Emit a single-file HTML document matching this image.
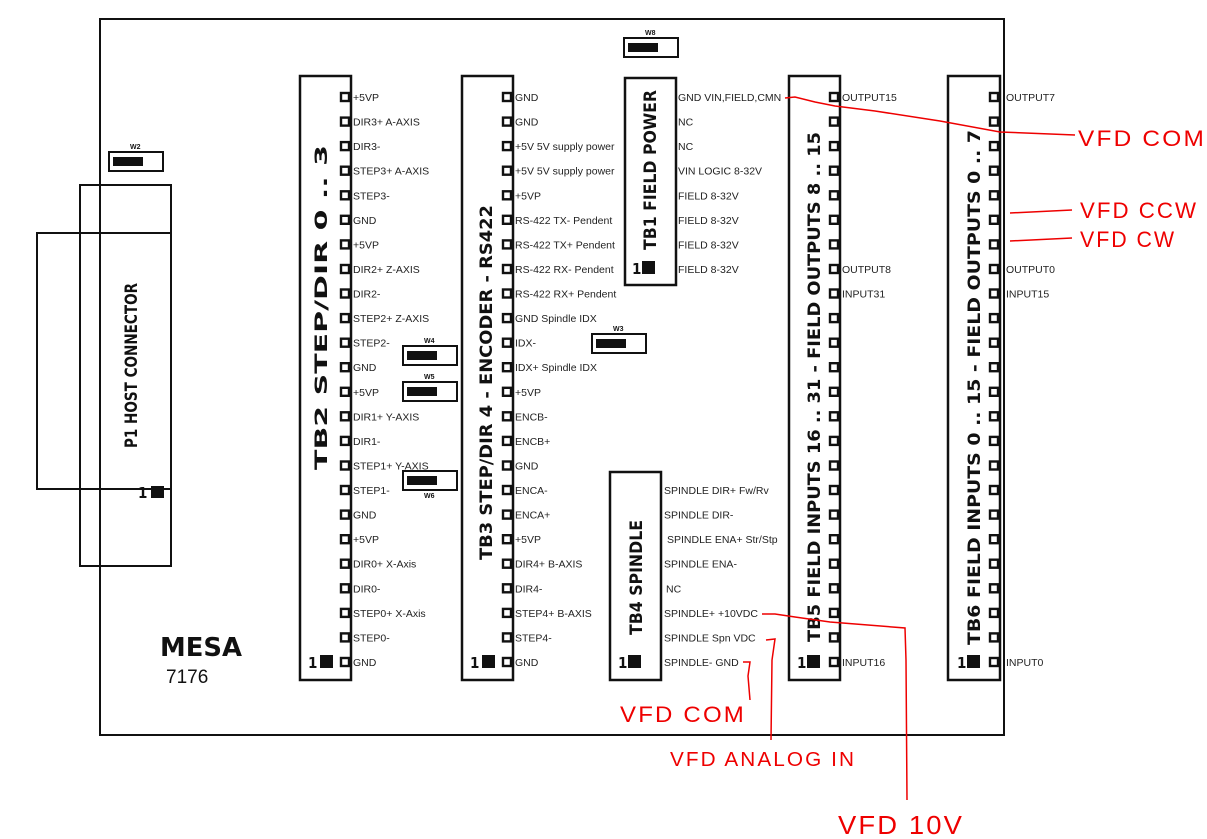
<!DOCTYPE html>
<html><head><meta charset="utf-8"><style>
html,body{margin:0;padding:0;background:#fff}
svg{display:block}
.l{font-family:"Liberation Sans",sans-serif;font-size:10.5px;fill:#222}
.t{font-family:"DejaVu Sans Condensed","DejaVu Sans",sans-serif;font-weight:bold;font-size:17px;fill:#111}
.r{font-family:"Liberation Sans",sans-serif;font-size:22px;fill:#e00;letter-spacing:2px}
.w{font-family:"Liberation Sans",sans-serif;font-weight:bold;font-size:7px;fill:#111}
</style></head><body>
<svg width="1207" height="839" viewBox="0 0 1207 839">
<defs>
<g id="p"><rect x="0" y="-4" width="8" height="8" fill="#fff" stroke="#111" stroke-width="2.4"/></g>
<g id="col">
<use href="#p" y="97"/><use href="#p" y="121.6"/><use href="#p" y="146.1"/><use href="#p" y="170.7"/><use href="#p" y="195.3"/><use href="#p" y="219.8"/><use href="#p" y="244.4"/><use href="#p" y="269"/><use href="#p" y="293.5"/><use href="#p" y="318.1"/><use href="#p" y="342.7"/><use href="#p" y="367.2"/><use href="#p" y="391.8"/><use href="#p" y="416.3"/><use href="#p" y="440.9"/><use href="#p" y="465.5"/><use href="#p" y="490"/><use href="#p" y="514.6"/><use href="#p" y="539.2"/><use href="#p" y="563.7"/><use href="#p" y="588.3"/><use href="#p" y="612.9"/><use href="#p" y="637.4"/><use href="#p" y="662"/>
</g>
<g id="jp"><rect x="0" y="0" width="54" height="19" fill="#fff" stroke="#111" stroke-width="2"/><rect x="4" y="5" width="30" height="9" fill="#111"/></g>
</defs>
<rect x="100" y="19" width="904" height="716" fill="none" stroke="#111" stroke-width="2"/>
<rect x="80" y="185" width="91" height="381" fill="none" stroke="#111" stroke-width="2"/>
<rect x="37" y="233" width="134" height="256" fill="none" stroke="#111" stroke-width="2"/>
<line x1="100" y1="19" x2="100" y2="735" stroke="#111" stroke-width="2"/>
<text class="t" transform="translate(137,448) rotate(-90)" textLength="165" lengthAdjust="spacingAndGlyphs" style="font-size:17px">P1 HOST CONNECTOR</text>
<text class="t" x="138" y="498" style="font-size:15px">1</text><rect x="151" y="486" width="13" height="12" fill="#111"/>
<use href="#jp" x="109" y="152"/><text class="w" x="130" y="149">W2</text>
<use href="#jp" x="624" y="38"/><text class="w" x="645" y="35">W8</text>
<use href="#jp" x="403" y="346"/><text class="w" x="424" y="343">W4</text>
<use href="#jp" x="403" y="382"/><text class="w" x="424" y="379">W5</text>
<use href="#jp" x="403" y="471"/><text class="w" x="424" y="498">W6</text>
<use href="#jp" x="592" y="334"/><text class="w" x="613" y="331">W3</text>
<text x="160" y="656" style="font-family:'DejaVu Sans',sans-serif;font-weight:bold;font-size:26px;fill:#111" textLength="82" lengthAdjust="spacingAndGlyphs">MESA</text>
<text x="166" y="683" style="font-family:'Liberation Sans',sans-serif;font-size:19px;fill:#111">7176</text>
<rect x="300" y="76" width="51" height="604" fill="#fff" stroke="#111" stroke-width="2.5"/>
<use href="#col" x="341"/>
<text class="t" transform="translate(327,470) rotate(-90)" textLength="325" lengthAdjust="spacingAndGlyphs">TB2 STEP/DIR 0 .. 3</text>
<text class="t" x="308" y="668" style="font-size:15px">1</text><rect x="320" y="655" width="13" height="13" fill="#111"/>
<g class="l">
<text x="353" y="101">+5VP</text><text x="353" y="125.6">DIR3+  A-AXIS</text><text x="353" y="150">DIR3-</text><text x="353" y="174.7">STEP3+ A-AXIS</text><text x="353" y="199.3">STEP3-</text><text x="353" y="223.8">GND</text><text x="353" y="248.4">+5VP</text><text x="353" y="273">DIR2+  Z-AXIS</text><text x="353" y="297.5">DIR2-</text><text x="353" y="322">STEP2+ Z-AXIS</text><text x="353" y="346.7">STEP2-</text><text x="353" y="371.2">GND</text><text x="353" y="395.8">+5VP</text><text x="353" y="420.3">DIR1+  Y-AXIS</text><text x="353" y="444.9">DIR1-</text><text x="353" y="469.5">STEP1+ Y-AXIS</text><text x="353" y="494">STEP1-</text><text x="353" y="518.6">GND</text><text x="353" y="543.2">+5VP</text><text x="353" y="567.7">DIR0+  X-Axis</text><text x="353" y="592.3">DIR0-</text><text x="353" y="616.9">STEP0+ X-Axis</text><text x="353" y="641.4">STEP0-</text><text x="353" y="666">GND</text>
</g>
<rect x="462" y="76" width="51" height="604" fill="#fff" stroke="#111" stroke-width="2.5"/>
<use href="#col" x="503"/>
<text class="t" transform="translate(492,560) rotate(-90)" textLength="355" lengthAdjust="spacingAndGlyphs">TB3 STEP/DIR 4 - ENCODER - RS422</text>
<text class="t" x="470" y="668" style="font-size:15px">1</text><rect x="482" y="655" width="13" height="13" fill="#111"/>
<g class="l">
<text x="515" y="101">GND</text><text x="515" y="125.6">GND</text><text x="515" y="150">+5V 5V supply power</text><text x="515" y="174.7">+5V 5V supply power</text><text x="515" y="199.3">+5VP</text><text x="515" y="223.8">RS-422 TX-  Pendent</text><text x="515" y="248.4">RS-422 TX+  Pendent</text><text x="515" y="273">RS-422 RX-  Pendent</text><text x="515" y="297.5">RS-422 RX+  Pendent</text><text x="515" y="322">GND  Spindle IDX</text><text x="515" y="346.7">IDX-</text><text x="515" y="371.2">IDX+ Spindle IDX</text><text x="515" y="395.8">+5VP</text><text x="515" y="420.3">ENCB-</text><text x="515" y="444.9">ENCB+</text><text x="515" y="469.5">GND</text><text x="515" y="494">ENCA-</text><text x="515" y="518.6">ENCA+</text><text x="515" y="543.2">+5VP</text><text x="515" y="567.7">DIR4+  B-AXIS</text><text x="515" y="592.3">DIR4-</text><text x="515" y="616.9">STEP4+ B-AXIS</text><text x="515" y="641.4">STEP4-</text><text x="515" y="666">GND</text>
</g>
<rect x="625" y="78" width="51" height="207" fill="#fff" stroke="#111" stroke-width="2.5"/>
<clipPath id="c1"><rect x="600" y="80" width="100" height="200"/></clipPath>
<use href="#col" x="666" clip-path="url(#c1)"/>
<text class="t" transform="translate(656,250) rotate(-90)" textLength="160" lengthAdjust="spacingAndGlyphs">TB1 FIELD POWER</text>
<text class="t" x="632" y="274" style="font-size:15px">1</text><rect x="642" y="261" width="13" height="13" fill="#111"/>
<g class="l">
<text x="678" y="101">GND VIN,FIELD,CMN</text><text x="678" y="125.6">NC</text><text x="678" y="150">NC</text><text x="678" y="174.7">VIN LOGIC 8-32V</text><text x="678" y="199.3">FIELD 8-32V</text><text x="678" y="223.8">FIELD 8-32V</text><text x="678" y="248.4">FIELD 8-32V</text><text x="678" y="273">FIELD 8-32V</text>
</g>
<rect x="610" y="472" width="51" height="208" fill="#fff" stroke="#111" stroke-width="2.5"/>
<clipPath id="c4"><rect x="600" y="480" width="100" height="195"/></clipPath>
<use href="#col" x="651" clip-path="url(#c4)"/>
<text class="t" transform="translate(642,635) rotate(-90)" textLength="115" lengthAdjust="spacingAndGlyphs">TB4 SPINDLE</text>
<text class="t" x="618" y="668" style="font-size:15px">1</text><rect x="628" y="655" width="13" height="13" fill="#111"/>
<g class="l">
<text x="664" y="494">SPINDLE DIR+ Fw/Rv</text><text x="664" y="518.6">SPINDLE DIR-</text><text x="667" y="543.2">SPINDLE ENA+ Str/Stp</text><text x="664" y="567.7">SPINDLE ENA-</text><text x="666" y="592.3">NC</text><text x="664" y="616.9">SPINDLE+ +10VDC</text><text x="664" y="641.4">SPINDLE  Spn VDC</text><text x="664" y="666">SPINDLE- GND</text>
</g>
<rect x="789" y="76" width="51" height="604" fill="#fff" stroke="#111" stroke-width="2.5"/>
<use href="#col" x="830"/>
<text class="t" transform="translate(820,642) rotate(-90)" textLength="510" lengthAdjust="spacingAndGlyphs">TB5 FIELD INPUTS 16 .. 31 - FIELD OUTPUTS 8 .. 15</text>
<text class="t" x="797" y="668" style="font-size:15px">1</text><rect x="807" y="655" width="13" height="13" fill="#111"/>
<g class="l"><text x="842" y="101">OUTPUT15</text><text x="842" y="273">OUTPUT8</text><text x="842" y="297.5">INPUT31</text><text x="842" y="666">INPUT16</text></g>
<rect x="948" y="76" width="52" height="604" fill="#fff" stroke="#111" stroke-width="2.5"/>
<use href="#col" x="990"/>
<text class="t" transform="translate(980,645) rotate(-90)" textLength="515" lengthAdjust="spacingAndGlyphs">TB6 FIELD INPUTS 0 .. 15 - FIELD OUTPUTS 0 .. 7</text>
<text class="t" x="957" y="668" style="font-size:15px">1</text><rect x="967" y="655" width="13" height="13" fill="#111"/>
<g class="l"><text x="1006" y="101">OUTPUT7</text><text x="1006" y="273">OUTPUT0</text><text x="1006" y="297.5">INPUT15</text><text x="1006" y="666">INPUT0</text></g>
<g fill="none" stroke="#e00" stroke-width="1.5">
<path d="M785,98 L795,97 L815,102 L835,106 L875,111 L940,121 L1000,132 L1075,135"/>
<path d="M1010,213 L1072,210"/>
<path d="M1010,241 L1072,238"/>
<path d="M743,662 L750,662 L748,676 L750,700"/>
<path d="M766,640 L775,639 L772,660 L771,740"/>
<path d="M762,614 L775,614 L795,617 L830,622 L905,628 L906,660 L907,800"/>
</g>
<text class="r" x="1078" y="146" textLength="128" lengthAdjust="spacingAndGlyphs">VFD COM</text>
<text class="r" x="1080" y="218" textLength="118" lengthAdjust="spacingAndGlyphs">VFD CCW</text>
<text class="r" x="1080" y="247" textLength="96" lengthAdjust="spacingAndGlyphs">VFD CW</text>
<text class="r" x="620" y="722" textLength="126" lengthAdjust="spacingAndGlyphs">VFD COM</text>
<text class="r" x="670" y="766" style="font-size:20px" textLength="186" lengthAdjust="spacingAndGlyphs">VFD ANALOG IN</text>
<text class="r" x="838" y="834" style="font-size:26px" textLength="126" lengthAdjust="spacingAndGlyphs">VFD 10V</text>
</svg>
</body></html>
